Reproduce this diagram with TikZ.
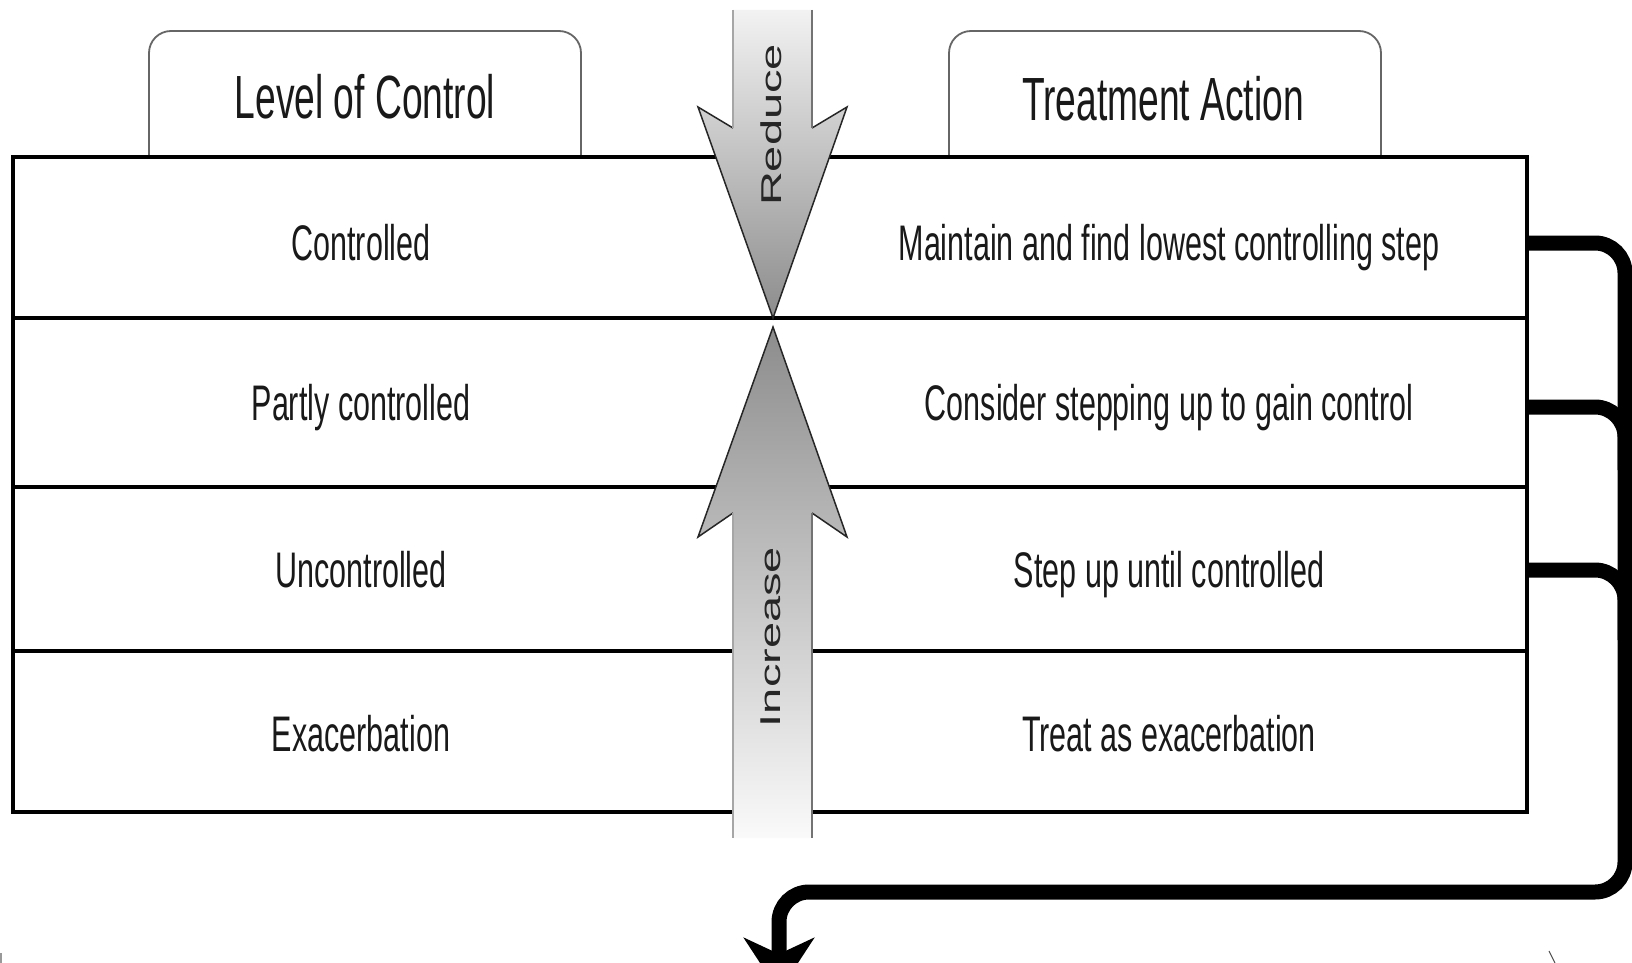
\documentclass[tikz,border=0pt]{standalone}
\usepackage{graphicx}
\usepackage{fontspec}
\setmainfont{Liberation Sans}
\usetikzlibrary{arrows.meta}
\newcommand{\sq}[1]{\scalebox{0.61}[1]{#1}}
\newcommand{\rowfnt}{\fontsize{50}{50}\selectfont}
\newcommand{\hdfnt}{\fontsize{61}{61}\selectfont}
\newcommand{\arrfnt}{\fontsize{47}{47}\selectfont}
\begin{document}
\begin{tikzpicture}[x=1pt,y=-1pt,
  tablinestyle/.style={draw=black!60, line width=1.8pt, fill=white, rounded corners=22pt},
  gridline/.style={line width=3.6pt, black},
  rowtext/.style={anchor=base, inner sep=0pt, text=black!90, font=\rowfnt},
  headtext/.style={anchor=base, inner sep=0pt, text=black!90, font=\hdfnt},
  arrtext/.style={inner sep=0pt, text=black!85, font=\arrfnt},
  conn/.style={line width=15pt, black, rounded corners=30pt},
  headedge/.style={line width=1.5pt, black!85, line join=miter},
]
\useasboundingbox (0,0) rectangle (1632,963);
\clip (0,0) rectangle (1632,963);
\fill[white] (0,0) rectangle (1632,963);

% header tabs
\draw[tablinestyle] (149,157) -- (149,31) -- (581,31) -- (581,157);
\draw[tablinestyle] (949,157) -- (949,31) -- (1381,31) -- (1381,157);
\node[headtext] (h1) at (365,119) {\sq{Level of Control}};
\node[headtext] (h2) at (1163,121) {\sq{Treatment Action}};

% table
\coordinate (tl) at (13,157);
\coordinate (br) at (1527,812);
\draw[gridline] (tl) rectangle (br);
\draw[gridline] (13,318) -- (1527,318);
\draw[gridline] (13,487) -- (1527,487);
\draw[gridline] (13,651) -- (1527,651);

% row texts
\node[rowtext] (l1) at (361,260) {\sq{Controlled}};
\node[rowtext] (l2) at (361,420) {\sq{Partly controlled}};
\node[rowtext] (l3) at (361,587) {\sq{Uncontrolled}};
\node[rowtext] (l4) at (361,751) {\sq{Exacerbation}};
\node[rowtext] (a1) at (1169,260) {\sq{Maintain and find lowest controlling step}};
\node[rowtext] (a2) at (1169,420) {\sq{Consider stepping up to gain control}};
\node[rowtext] (a3) at (1169,587) {\sq{Step up until controlled}};
\node[rowtext] (a4) at (1169,751) {\sq{Treat as exacerbation}};

% reduce arrow (down)
\shade[top color=black!5, bottom color=black!45]
  (733,10) -- (733,128) -- (698,107) -- (773,318) -- (847,107) -- (812,128) -- (812,10) -- cycle;
\draw[headedge] (733,128) -- (698,107) -- (773,318) -- (847,107) -- (812,128);
\draw[line width=1.8pt, black!35] (733,10) -- (733,128);
\draw[line width=1.8pt, black!55] (812,10) -- (812,128);
\node[arrtext] (red) at (771,125) {\sq{\rotatebox{90}{Reduce}}};

% increase arrow (up)
\shade[top color=black!45, bottom color=black!2]
  (773,327) -- (847,537) -- (812,513) -- (812,838) -- (733,838) -- (733,513) -- (698,537) -- cycle;
\draw[headedge] (812,513) -- (847,537) -- (773,327) -- (698,537) -- (733,513);
\draw[line width=1.8pt, black!35] (733,513) -- (733,838);
\draw[line width=1.8pt, black!55] (812,513) -- (812,838);
\node[arrtext] (inc) at (771,637) {\sq{\rotatebox{90}{Increase}}};

% connectors
\coordinate (c1) at (1527,243);
\coordinate (c2) at (1527,407);
\coordinate (c3) at (1527,570);
\coordinate (m2) at (1625,470);
\coordinate (m3) at (1625,640);
\coordinate (bend) at (1625,892);
\coordinate (endp) at (779,992);
\draw[conn] (c2) -| (m2);
\draw[conn] (c3) -| (m3);
\draw[conn, -{Stealth[length=54pt, width=70pt, inset=16pt]}] (c1) -| (bend) -| (endp);

% small marks at the lower edge
\draw[black!70, line width=1pt] (1549,951) -- (1555,963);
\draw[black!40, line width=2pt] (1,953) -- (1,963);
\end{tikzpicture}
\end{document}
